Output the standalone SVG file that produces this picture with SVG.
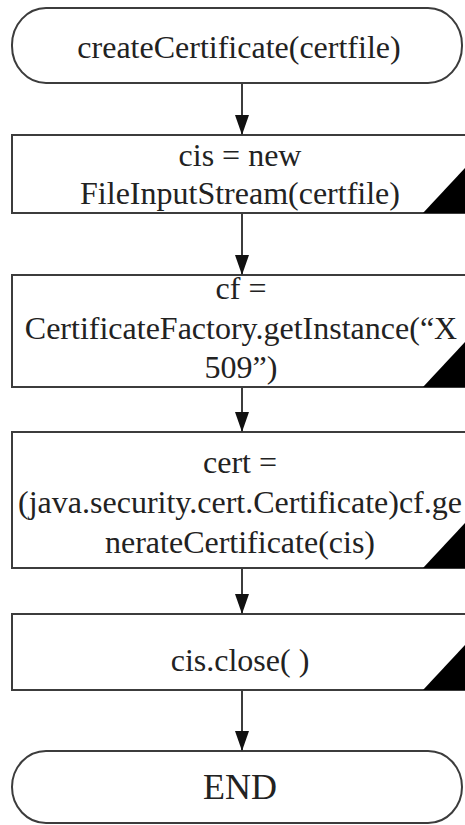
<svg xmlns="http://www.w3.org/2000/svg" width="465" height="825" viewBox="0 0 465 825">
<defs>
<style>
.shape{fill:#fff;stroke:#3c3c3c;stroke-width:2}
.tri{fill:#000}
.t{font-family:"Liberation Serif","Times New Roman",serif;font-size:32px;fill:#222;text-anchor:middle}
.edge{stroke:#3c3c3c;stroke-width:2;fill:none}
</style>
<marker id="ah" markerWidth="20" markerHeight="14" refX="20" refY="7" orient="auto" markerUnits="userSpaceOnUse" viewBox="0 0 20 14">
<path d="M0,0 L20,7 L0,14 Z" fill="#111"/>
</marker>
</defs>
<rect width="465" height="825" fill="#fff"/>
<g id="start">
<rect class="shape" x="12" y="8" width="450" height="75" rx="34" ry="37"/>
<text class="t" x="239" y="58">createCertificate(certfile)</text>
</g>
<g id="n1">
<rect class="shape" x="12" y="135" width="460" height="78"/>
<path class="tri" d="M423,213 L466,167 L466,213 Z"/>
<text class="t" x="240" y="166">cis = new</text>
<text class="t" x="240" y="204">FileInputStream(certfile)</text>
</g>
<g id="n2">
<rect class="shape" x="12" y="275" width="460" height="112"/>
<path class="tri" d="M423,387 L466,341 L466,387 Z"/>
<text class="t" x="241" y="299">cf =</text>
<text class="t" x="241" y="339">CertificateFactory.getInstance(“X</text>
<text class="t" x="241" y="378">509”)</text>
</g>
<g id="n3">
<rect class="shape" x="12" y="432" width="460" height="136"/>
<path class="tri" d="M423,568 L466,522 L466,568 Z"/>
<text class="t" x="240" y="473">cert =</text>
<text class="t" x="240" y="513">(java.security.cert.Certificate)cf.ge</text>
<text class="t" x="240" y="553">nerateCertificate(cis)</text>
</g>
<g id="n4">
<rect class="shape" x="12" y="614" width="460" height="76"/>
<path class="tri" d="M423,690 L466,644 L466,690 Z"/>
<text class="t" x="240" y="671">cis.close( )</text>
</g>
<g id="end">
<rect class="shape" x="12" y="751" width="450" height="72" rx="34" ry="36"/>
<text class="t" x="240" y="799" style="font-size:36px">END</text>
</g>
<g id="connectors">
<line class="edge" x1="242" y1="83" x2="242" y2="135" marker-end="url(#ah)"/>
<line class="edge" x1="242" y1="213" x2="242" y2="275" marker-end="url(#ah)"/>
<line class="edge" x1="242" y1="387" x2="242" y2="432" marker-end="url(#ah)"/>
<line class="edge" x1="242" y1="568" x2="242" y2="614" marker-end="url(#ah)"/>
<line class="edge" x1="242" y1="690" x2="242" y2="751" marker-end="url(#ah)"/>
</g>
</svg>
